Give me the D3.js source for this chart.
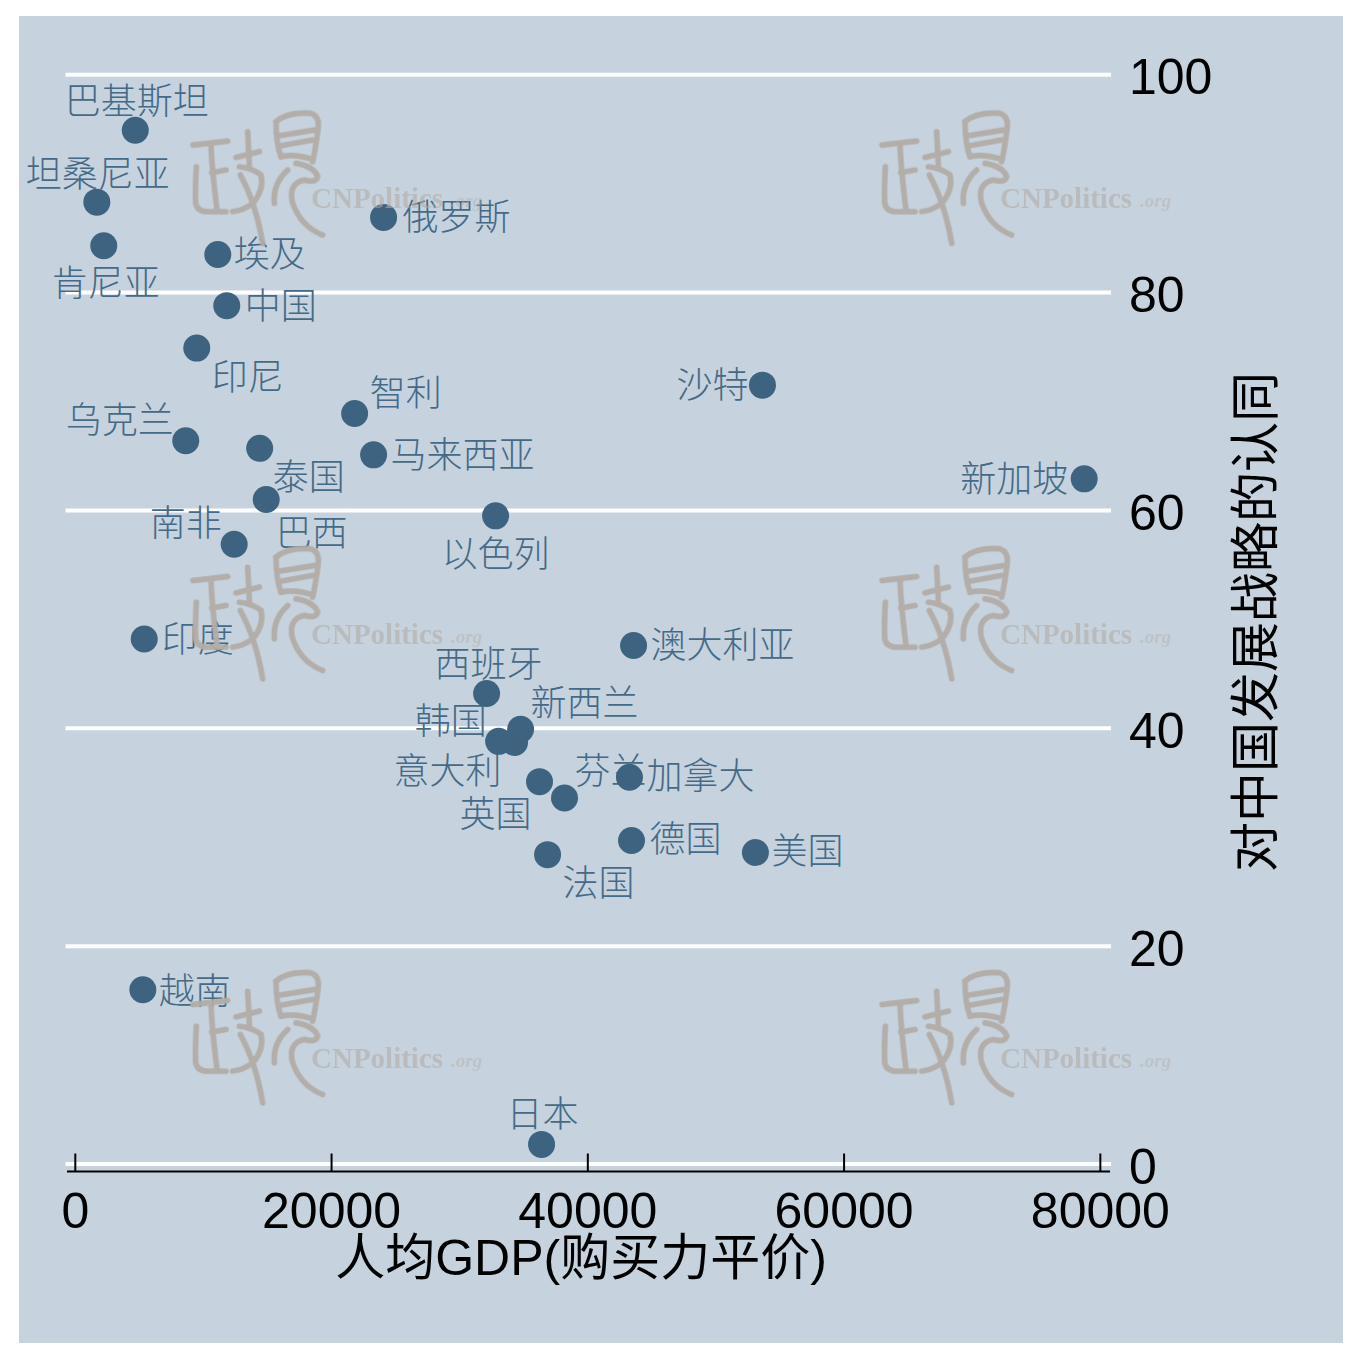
<!DOCTYPE html>
<html>
<head>
<meta charset="utf-8">
<script src="https://cdn.jsdelivr.net/npm/d3@7"></script>
<style>
  html, body { margin: 0; background: #fff; }
  svg { display: block; }
  text { font-family: "Liberation Sans", "Noto Sans CJK SC", sans-serif; }
  .label { font-family: "Noto Sans CJK SC", sans-serif; font-weight: 300; }
  .site { font-family: "Liberation Serif", serif; font-weight: bold; }
</style>
</head>
<body>
<div class="data"></div>
<script>
const countries = ["巴基斯坦","坦桑尼亚","肯尼亚","埃及","俄罗斯","中国","印尼","智利","沙特","乌克兰","马来西亚","泰国","巴西","新加坡","以色列","南非","印度","澳大利亚","西班牙","新西兰","韩国","意大利","英国","芬兰","加拿大","德国","美国","法国","越南","日本"]
const gdpPerCapita = [4680,1680,2220,11120,24060,11820,9480,21800,53630,8620,23280,14390,14900,78740,32800,12400,5380,43570,32100,34750,33040,34280,36230,38180,43250,43410,53080,36860,5270,36390]
const support = [94.9,88.3,84.3,83.5,86.9,78.8,74.9,68.9,71.5,66.4,65.1,65.7,61.0,62.9,59.5,56.9,48.2,47.6,43.2,39.9,38.8,38.7,35.1,33.6,35.5,29.7,28.6,28.4,16.0,1.8]
const xTicks = [0,20000,40000,60000,80000]
const yTicks = [0,20,40,60,80,100]
const xTitle = "人均GDP(购买力平价)"
const yTitle = "对中国发展战略的认同"

// label offset from its dot: left edge, vertical centre
const labelOffsets = {
  "巴基斯坦":[-70.5,-29.5], "坦桑尼亚":[-71,-28], "肯尼亚":[-52,37], "埃及":[16,0], "俄罗斯":[19,0],
  "中国":[18,0], "印尼":[15,29], "智利":[15,-20], "沙特":[-86,0], "乌克兰":[-120,-21],
  "马来西亚":[17,0], "泰国":[13,29], "巴西":[9.5,34], "新加坡":[-124,0], "以色列":[-54,38],
  "南非":[-84.5,-21], "印度":[17.5,0], "澳大利亚":[17,0], "西班牙":[-52,-29], "新西兰":[10,-26],
  "韩国":[-84,-20], "意大利":[-121,29], "英国":[-80,32], "芬兰":[10,-27], "加拿大":[17,-1],
  "德国":[18,-1], "美国":[16,-1], "法国":[15,28], "越南":[16,1], "日本":[-35,-30]
}

const width = 1360
const height = 1362

const svg = d3.select(".data")
  .append("svg")
  .attr("width", width)
  .attr("height", height)

svg.append("rect")
  .attr("x", 19)
  .attr("y", 16)
  .attr("width", 1324)
  .attr("height", 1327)
  .attr("fill", "#c6d3df")

const x = d3.scaleLinear().domain([-648, 80754]).range([67, 1110])
const y = d3.scaleLinear().domain([0, 100]).range([1164, 74.7])

// gridlines
svg.append("g")
  .selectAll("line")
  .data(yTicks)
  .join("line")
  .attr("x1", 65.5)
  .attr("x2", 1111)
  .attr("y1", d => y(d))
  .attr("y2", d => y(d))
  .attr("stroke", "white")
  .attr("stroke-width", 4)

const xAxis = svg.append("g")
  .attr("transform", "translate(0,1171.5)")
  .call(d3.axisBottom(x).tickValues(xTicks).tickFormat(d3.format("d")).tickSizeInner(-18).tickSizeOuter(0).offset(0))
xAxis.selectAll("path, line").attr("stroke", "black").attr("stroke-width", 2)
xAxis.selectAll("text")
  .attr("y", 56)
  .attr("dy", 0)
  .attr("fill", "black")
  .attr("font-size", 50)
  .attr("font-family", null)

const yAxis = svg.append("g")
  .attr("transform", "translate(1111,0)")
  .call(d3.axisRight(y).tickValues(yTicks).tickSize(0).offset(0))
yAxis.select("path").remove()
yAxis.selectAll("text")
  .attr("x", 18)
  .attr("dy", 19.5)
  .attr("fill", "black")
  .attr("font-size", 50)
  .attr("font-family", null)

svg.append("text")
  .attr("x", 581)
  .attr("y", 1275)
  .attr("text-anchor", "middle")
  .attr("font-size", 50)
  .text(xTitle)

svg.append("text")
  .attr("transform", "translate(1273,622) rotate(-90)")
  .attr("text-anchor", "middle")
  .attr("font-size", 50)
  .text(yTitle)

const points = countries.map((name, i) => ({ name, gdp: gdpPerCapita[i], value: support[i] }))

svg.append("g")
  .selectAll("text")
  .data(points)
  .join("text")
  .attr("class", "label")
  .attr("x", d => x(d.gdp) + labelOffsets[d.name][0])
  .attr("y", d => y(d.value) + labelOffsets[d.name][1])
  .attr("dy", "0.36em")
  .attr("font-size", 36)
  .attr("fill", "#446a87")
  .text(d => d.name)

svg.append("g")
  .selectAll("circle")
  .data(points)
  .join("circle")
  .attr("cx", d => x(d.gdp))
  .attr("cy", d => y(d.value))
  .attr("r", 13.5)
  .attr("fill", "#3e6380")

// site watermark, six copies over the chart
const markCols = [181, 870]
const markRows = [100, 535.5, 959.5]
const sealStrokes = [
  "M36 135Q80 130 140 123",
  "M90 135Q92 200 108 330",
  "M92 218L135 210",
  "M46 200Q42 270 44 310Q49 335 80 335L135 335",
  "M200 95L205 195",
  "M165 172L235 155",
  "M175 200Q215 205 240 225Q250 270 215 310Q190 330 155 335",
  "M178 225Q225 310 245 430",
  "M285 65Q320 35 390 40Q415 50 412 80Q405 140 395 185",
  "M285 65Q285 130 300 170",
  "M295 107L400 90",
  "M300 137L395 120",
  "M300 170Q340 160 395 178",
  "M345 190Q400 200 410 230Q405 250 370 240Q320 250 335 310Q360 380 425 405",
  "M320 210Q275 250 280 310"
]

const marks = svg.append("g")
  .selectAll("g")
  .data(d3.cross(markCols, markRows))
  .join("g")
  .attr("transform", d => `translate(${d[0]},${d[1]})`)
  .style("filter", "blur(0.7px)")

marks.append("g")
  .attr("transform", "scale(0.3333)")
  .attr("fill", "none")
  .attr("stroke", "#b3aca6")
  .attr("stroke-width", 17)
  .attr("stroke-linecap", "round")
  .attr("opacity", 0.95)
  .selectAll("path")
  .data(sealStrokes)
  .join("path")
  .attr("d", d => d)

marks.append("text")
  .attr("class", "site")
  .attr("x", 130)
  .attr("y", 108)
  .attr("fill", "#b3aca6")
  .attr("opacity", 0.6)
  .attr("font-size", 29)
  .text("CNPolitics")

marks.append("text")
  .attr("class", "site")
  .attr("x", 270)
  .attr("y", 107)
  .attr("fill", "#b3aca6")
  .attr("opacity", 0.45)
  .attr("font-size", 19)
  .attr("font-style", "italic")
  .text(".org")
</script>
</body>
</html>
